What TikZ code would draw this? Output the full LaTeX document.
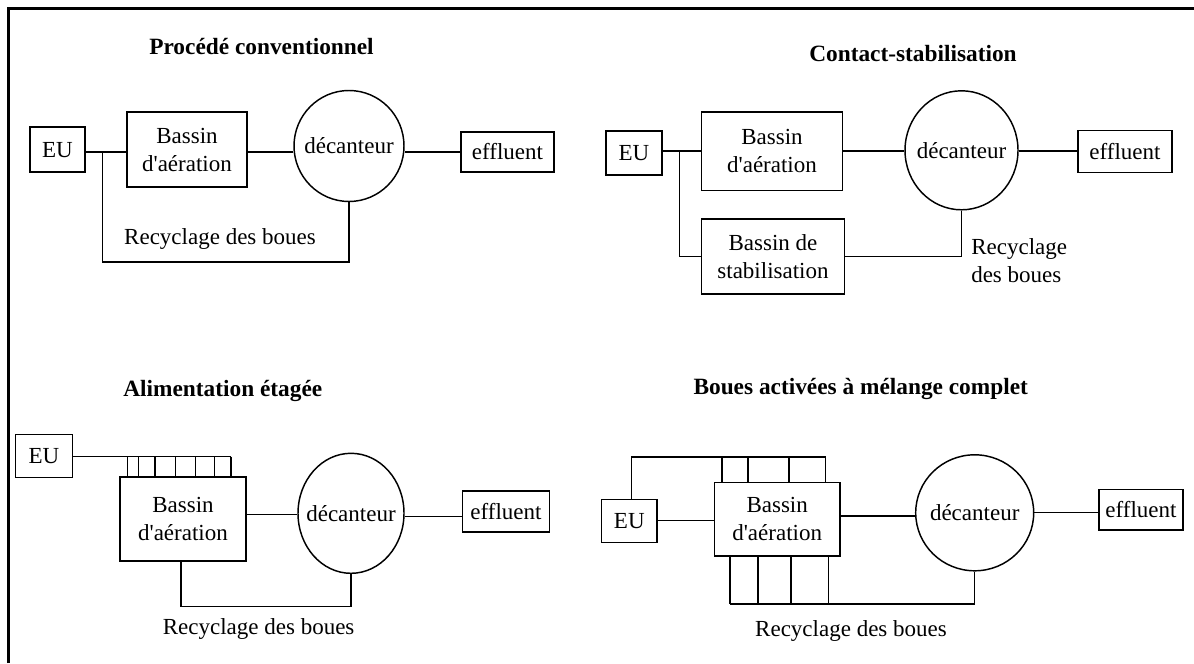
\documentclass[tikz,border=0pt]{standalone}
\usepackage{fontspec}
\setmainfont{Liberation Serif}
\usetikzlibrary{shapes.geometric}
\newcommand{\apos}{\textquotesingle}
\begin{document}
\begin{tikzpicture}[x=0.75pt,y=-0.75pt,
  every node/.style={font=\fontsize{17.25}{21}\selectfont, inner sep=0pt, align=center},
  box/.style 2 args={draw, line width=1.1pt, minimum width=#1*0.75pt, minimum height=#2*0.75pt},
  tank/.style 2 args={draw, ellipse, line width=1.1pt, minimum width=#1*0.75pt, minimum height=#2*0.75pt},
  title/.style={font=\fontsize{17.5}{21}\selectfont\bfseries},
  pipe/.style={line width=1.1pt}]
\useasboundingbox (0,0) rectangle (1194,663);
% outer frame (top and left sides)
\draw[line width=1.6pt] (8.5,663) -- (8.5,8.5) -- (1194,8.5);

% ---------- Procédé conventionnel ----------
\node[title] (t1) at (261.5,47) {Procédé conventionnel};
\node[box={55}{45}] (eu1) at (57.5,149.7) {EU};
\node[box={120}{75}] (bas1) at (187,149.7) {Bassin\\d\apos aération};
\node[tank={110}{111}, label={center:décanteur}] (dec1) at (349,146) {};
\node[box={93}{40}] (eff1) at (507.5,152) {effluent};
\coordinate (row1) at (0,152);
\draw[pipe] (eu1.east |- row1) -- (bas1.west |- row1);
\draw[pipe] (bas1.east |- row1) -- (dec1.west |- row1);
\draw[pipe] (dec1.east |- row1) -- (eff1.west |- row1);
\coordinate (j1) at (102.7,152);
\coordinate (rb1) at (102.7,262);
\draw[pipe] (j1) -- (rb1) -| (dec1.south);
\node (rec1) at (220,239) {Recyclage des boues};

% ---------- Contact-stabilisation ----------
\node[title] (t2) at (913,53.3) {Contact-stabilisation};
\node[box={56}{44}] (eu2) at (634,153) {EU};
\node[box={141.5}{78.7}] (bas2) at (772,151.3) {Bassin\\d\apos aération};
\node[tank={113}{119}, label={center:décanteur}] (dec2) at (961.5,150.3) {};
\node[box={94}{41.5}] (eff2) at (1125,151.5) {effluent};
\node[box={142.5}{75}] (stab2) at (773,256.5) {Bassin de\\stabilisation};
\coordinate (row2) at (0,151);
\draw[pipe] (eu2.east |- row2) -- (bas2.west |- row2);
\draw[pipe] (bas2.east |- row2) -- (dec2.west |- row2);
\draw[pipe] (dec2.east |- row2) -- (eff2.west |- row2);
\coordinate (j2) at (679.3,151);
\draw[pipe] (j2) |- (stab2.west);
\draw[pipe] (stab2.east) -| (dec2.south);
\node[align=left, anchor=west] (rec2) at (971,261) {Recyclage\\des boues};

% ---------- Alimentation étagée ----------
\node[title] (t3) at (222.8,391) {Alimentation étagée};
\node[box={57.5}{43}] (eu3) at (44,455.8) {EU};
\node[box={126}{84}] (bas3) at (183,519) {Bassin\\d\apos aération};
\node[tank={106}{120}, label={center:décanteur}] (dec3) at (351,513.3) {};
\node[box={87.5}{41.3}] (eff3) at (506,511.5) {effluent};
\coordinate (fd3) at (231.4,456.7);
\draw[pipe] (eu3.east |- fd3) -- (fd3);
\foreach \x in {127.6,138.7,155.2,175.5,195.4,214.6,231}{
  \coordinate (s) at (\x,456.7);
  \draw[pipe] (s) -- (s |- bas3.north);
}
\coordinate (row3a) at (0,514.3);
\coordinate (row3b) at (0,516.7);
\draw[pipe] (bas3.east |- row3a) -- (dec3.west |- row3a);
\draw[pipe] (dec3.east |- row3b) -- (eff3.west |- row3b);
\coordinate (rb3) at (180.8,606.7);
\draw[pipe] (rb3 |- bas3.south) -- (rb3) -| (dec3.south);
\node (rec3) at (258.6,629) {Recyclage des boues};

% ---------- Boues activées à mélange complet ----------
\node[title] (t4) at (860.7,389) {Boues activées à mélange complet};
\node[box={55.5}{43}] (eu4) at (629.3,520.8) {EU};
\node[box={125.3}{73.3}] (bas4) at (777.2,519.4) {Bassin\\d\apos aération};
\node[tank={118}{116}, label={center:décanteur}] (dec4) at (974.7,512.8) {};
\node[box={84.2}{40.7}] (eff4) at (1141,509.7) {effluent};
\coordinate (tb4) at (631.4,457);
\coordinate (te4) at (825.6,457);
\draw[pipe] (tb4 |- eu4.north) -- (tb4) -- (te4);
\foreach \x in {722.2,748.2,789.2,825.6}{
  \coordinate (s) at (\x,457);
  \draw[pipe] (s) -- (s |- bas4.north);
}
\coordinate (row4a) at (0,520.3);
\coordinate (row4b) at (0,516);
\coordinate (row4c) at (0,512.7);
\draw[pipe] (eu4.east |- row4a) -- (bas4.west |- row4a);
\draw[pipe] (bas4.east |- row4b) -- (dec4.west |- row4b);
\draw[pipe] (dec4.east |- row4c) -- (eff4.west |- row4c);
\foreach \x in {729.8,757.8,790.8,828.7}{
  \coordinate (s) at (\x,604);
  \draw[pipe] (s |- bas4.south) -- (s);
}
\coordinate (rb4) at (729.8,604);
\draw[pipe] (rb4) -| (dec4.south);
\node (rec4) at (851,631) {Recyclage des boues};
\end{tikzpicture}
\end{document}
